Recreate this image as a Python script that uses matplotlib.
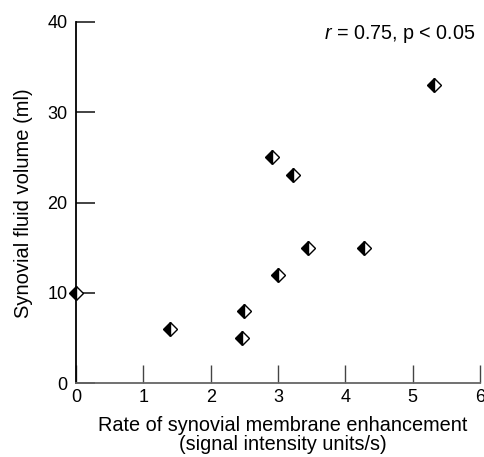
import matplotlib
matplotlib.use("Agg")
import matplotlib.pyplot as plt

plt.rcParams['font.family'] = ['Liberation Sans', 'DejaVu Sans']
plt.rcParams['mathtext.fontset'] = 'custom'
plt.rcParams['mathtext.it'] = 'Liberation Sans:italic'
plt.rcParams['mathtext.rm'] = 'Liberation Sans'

# Data
enhancement_rate = [0.0, 1.39, 2.47, 2.50, 2.91, 3.22, 3.00, 3.45, 4.28, 5.32]
fluid_volume = [10, 6, 5, 8, 25, 23, 12, 15, 15, 33]
x_ticks = [0, 1, 2, 3, 4, 5, 6]
y_ticks = [0, 10, 20, 30, 40]

W, H = 485, 457
fig = plt.figure(figsize=(W/100, H/100), dpi=100)
ax = fig.add_axes([76/W, 1-383/H, (480-76)/W, (383-22)/H])

ax.plot(enhancement_rate, fluid_volume, linestyle='none', marker='D',
        markersize=6.8, fillstyle='left', markerfacecolor='black',
        markerfacecoloralt='white', markeredgecolor='black',
        markeredgewidth=1.0, clip_on=False, zorder=5)

ax.set_xlim(0, 6)
ax.set_ylim(0, 40)
ax.set_xticks(x_ticks)
ax.set_yticks(y_ticks)
ax.set_xticklabels([str(t) for t in x_ticks])
ax.set_yticklabels([str(t) for t in y_ticks])

for s in ['top', 'right']:
    ax.spines[s].set_visible(False)
ax.spines['left'].set_color('black')
ax.spines['left'].set_linewidth(1.3)
ax.spines['bottom'].set_color('#666666')
ax.spines['bottom'].set_linewidth(1.3)

ax.tick_params(axis='y', direction='in', length=14, width=1.2, color='#222222',
               labelsize=13, pad=6)
ax.tick_params(axis='x', direction='in', length=13, width=1.0, color='#444444',
               labelsize=13, pad=4)

fig.text(24/W, 1-203/H, 'Synovial fluid volume (ml)', rotation=90,
         ha='center', va='center', fontsize=14.5)
fig.text(283/W, 1-435/H, 'Rate of synovial membrane enhancement\n(signal intensity units/s)',
         ha='center', va='center', fontsize=14.3, linespacing=1.05)

fig.text(476/W, 1-34/H, r'$r$ = 0.75, p < 0.05',
         ha='right', va='center', fontsize=14.2)

fig.savefig('out.png', dpi=100)
